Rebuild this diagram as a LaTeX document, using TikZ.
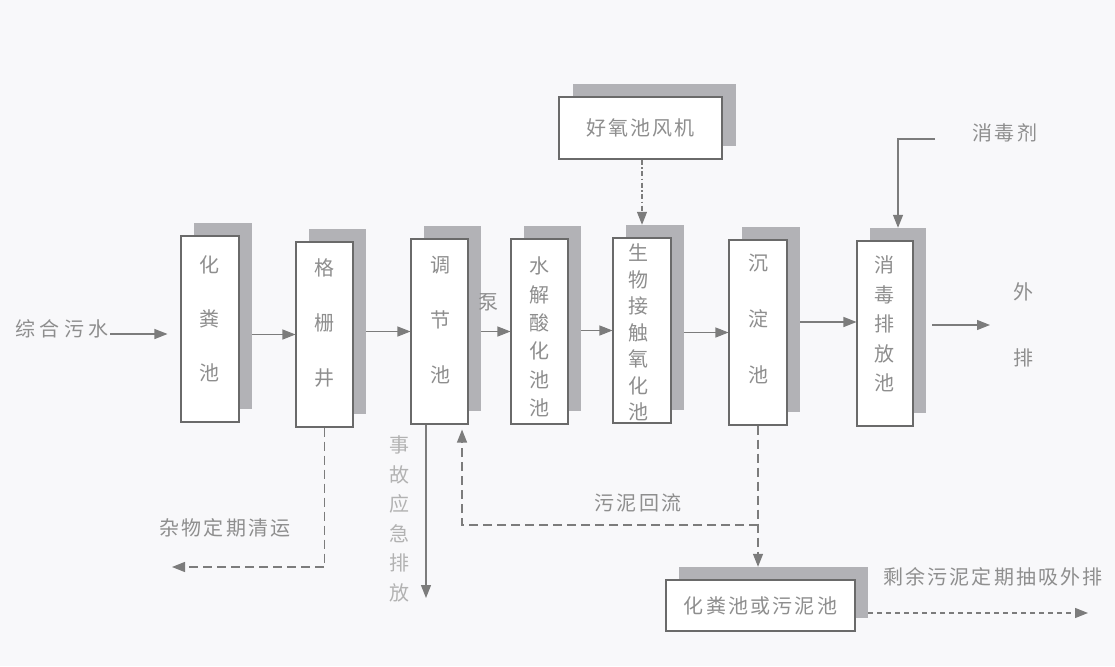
\documentclass[tikz,border=0pt]{standalone}
\usepackage{fontspec}
\newfontfamily\cjk[LetterSpace=11]{Noto Sans CJK SC}
\newfontfamily\cjkv{Noto Sans CJK SC}
\newfontfamily\cjkw[LetterSpace=22]{Noto Sans CJK SC}
\usetikzlibrary{arrows.meta}
\definecolor{bg}{HTML}{F8F8FA}
\definecolor{ln}{HTML}{7C7C7C}
\definecolor{bx}{HTML}{6A6A6A}
\definecolor{sh}{HTML}{B2B2B6}
\definecolor{tx}{HTML}{8E8E8E}
\definecolor{tl}{HTML}{B2B2B2}
\newcommand\poolbox[5]{%
  \node[shadowbox,minimum width=#4,minimum height=#5] (#1s) at ({#2+13},{#3-13}) {};
  \node[pool,minimum width=#4,minimum height=#5] (#1) at (#2,#3) {};}
\begin{document}
\begin{tikzpicture}[x=1pt,y=-1pt,
  pool/.style={draw=bx,line width=1.1pt,fill=white,inner sep=0pt},
  shadowbox/.style={fill=sh,draw=none,inner sep=0pt},
  arr/.style={draw=ln,line width=1.2pt,-{Triangle[length=13pt,width=10pt]}},
  dasharr/.style={arr,dash pattern=on 9pt off 5pt},
  dotarr/.style={arr,dash pattern=on 5pt off 4pt},
  dasharrdot/.style={arr,dash pattern=on 5pt off 2.5pt on 1.5pt off 2.5pt},
  vtext/.style={align=center,text=tx,inner sep=0pt},
  lab/.style={text=tx,inner sep=0pt,font=\cjk\fontsize{20}{24}\selectfont}]
\fill[bg] (0,0) rectangle (1115,666);
\useasboundingbox (0,0) rectangle (1115,666);
% boxes
\poolbox{A}{210}{329}{58pt}{186pt}
\poolbox{B}{324.5}{334.5}{57pt}{185pt}
\poolbox{C}{439.5}{331.5}{57pt}{185pt}
\poolbox{D}{539.5}{331.5}{57pt}{185pt}
\poolbox{E}{642}{330.5}{58pt}{185pt}
\poolbox{F}{758}{332.5}{58pt}{185pt}
\poolbox{G}{885}{333.5}{56pt}{185pt}
\node[shadowbox,minimum width=163pt,minimum height=62pt] (Hs) at (654,115) {};
\node[pool,minimum width=163pt,minimum height=62pt,lab] (H) at (640.5,128) {好氧池风机};
\node[shadowbox,minimum width=189pt,minimum height=51pt] (Is) at (773.5,592.5) {};
\node[pool,minimum width=189pt,minimum height=51pt,lab] (I) at (760.5,605.5) {化粪池或污泥池};
% box texts
\node[vtext,font=\cjkv\fontsize{20}{54}\selectfont] (At) at (209,319) {化\\粪\\池};
\node[vtext,font=\cjkv\fontsize{20}{55}\selectfont] (Bt) at (324,323) {格\\栅\\井};
\node[vtext,font=\cjkv\fontsize{20}{55}\selectfont] (Ct) at (440,320) {调\\节\\池};
\node[vtext,font=\cjkv\fontsize{20}{28.4}\selectfont] (Dt) at (539,337) {水\\解\\酸\\化\\池\\池};
\node[vtext,font=\cjkv\fontsize{20}{26.5}\selectfont] (Et) at (638,332.5) {生\\物\\接\\触\\氧\\化\\池};
\node[vtext,font=\cjkv\fontsize{20}{56}\selectfont] (Ft) at (758,319) {沉\\淀\\池};
\node[vtext,font=\cjkv\fontsize{20}{29.5}\selectfont] (Gt) at (884,324) {消\\毒\\排\\放\\池};
% labels
\node[lab,font=\cjkw\fontsize{20}{24}\selectfont] (src) at (62,329) {综合污水};
\node[lab,font=\cjkv\fontsize{20}{24}\selectfont] (pump) at (488,302) {泵};
\node[vtext,font=\cjkv\fontsize{20}{66}\selectfont] (outt) at (1023,325) {外\\排};
\node[lab] (dis) at (1005,133) {消毒剂};
\node[lab] (trash) at (225,528) {杂物定期清运};
\node[vtext,text=tl,font=\cjkv\fontsize{20}{29.6}\selectfont] (emt) at (399,519) {事\\故\\应\\急\\排\\放};
\node[lab] (retl) at (638,503) {污泥回流};
\node[lab] (resl) at (993,577) {剩余污泥定期抽吸外排};
% coordinates
\coordinate (inarr) at (110,334);
\coordinate (fg) at ([yshift=11.5pt]G.west);
\coordinate (outend) at (990,325);
\coordinate (disc) at (935,139);
\coordinate (em) at (426,598);
\coordinate (tr) at (172,567);
\coordinate (ret) at (462,525);
\coordinate (rs) at (1088,613);
% main flow
\draw[arr,shorten >=13pt] (inarr) -- (inarr -| A.west);
\draw[arr] (As.east |- B.west) -- (B.west);
\draw[arr] (Bs.east |- C.west) -- (C.west);
\draw[arr] (Cs.east |- D.west) -- (D.west);
\draw[arr] (Ds.east |- E.west) -- (E.west);
\draw[arr] (Es.east |- F.west) -- (F.west);
\draw[arr] (fg -| Fs.east) -- (fg);
\draw[arr,shorten <=6pt] (outend -| Gs.east) -- (outend);
\draw[arr] (disc) -| (Gs.north);
\draw[dasharrdot] (H.south -| E.north) -- (Es.north -| E.north);
% bottom
\draw[dasharr] (B.south) |- (tr);
\draw[arr] (C.south -| em) -- (em);
\draw[dasharr] (F.south) -- (F.south |- Is.north);
\draw[dasharr,shorten >=5pt] (F.south |- ret) -| (C.south -| ret);
\draw[dotarr] (Is.south east |- rs) -- (rs);
\end{tikzpicture}
\end{document}
